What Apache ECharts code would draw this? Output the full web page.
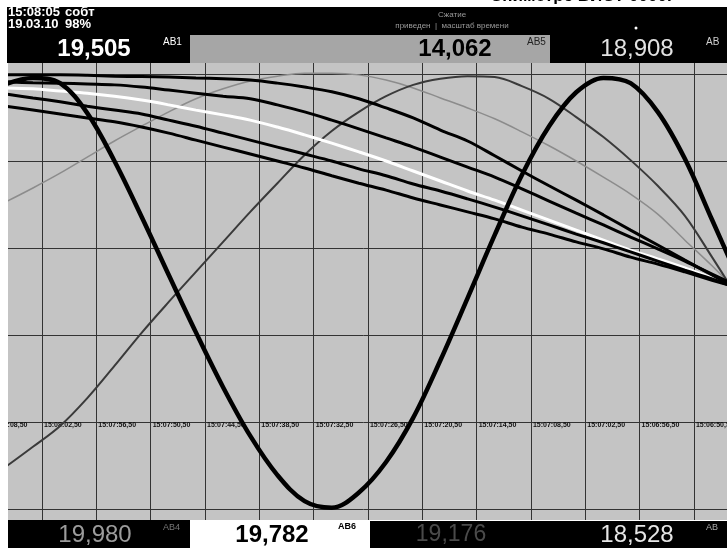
<!DOCTYPE html>
<html><head><meta charset="utf-8">
<script src="https://cdn.jsdelivr.net/npm/echarts@6/dist/echarts.min.js"></script>
<style>html,body{margin:0;padding:0;background:#fff}#c{width:727px;height:550px}</style>
</head><body><div id="c"></div>
<script>
// x: seconds elapsed back from 15:08:08,50 (time runs right-to-left on the recorder)
const seconds = [2,5,8,11,14,17,20,23,26,29,32,35,38,41,44,47,50,53,56,59,62,65,68,71,74,77,80,83];
const tickLabels = ["15:08:08,50","15:08:02,50","15:07:56,50","15:07:50,50","15:07:44,50","15:07:38,50","15:07:32,50","15:07:26,50","15:07:20,50","15:07:14,50","15:07:08,50","15:07:02,50","15:06:56,50","15:06:50,50","15:06:44,50"];
// values in % of scale
const thickSine = [97.7,99.1,97.9,91.0,80.0,67.2,53.8,40.6,28.0,16.8,7.8,1.8,0.3,3.8,10.8,21.0,34.2,48.5,63.0,76.8,88.0,95.8,99.1,97.9,91.3,80.5,66.5,52.5];
const grayRise = [9.7,14.3,19.1,25.5,32.9,40.5,47.6,54.5,61.4,68.3,74.9,81.4,86.9,91.3,94.9,97.5,98.9,99.5,99.3,97.2,94.3,90.1,85.5,80.2,74.3,67.4,57.9,48.0];
const faintGray = [70.6,73.8,77.2,80.9,84.6,88.0,91.3,94.3,96.6,98.4,99.5,100.2,100.2,99.8,98.6,96.8,94.5,92.2,89.7,86.7,83.5,80.0,76.3,72.4,67.8,61.8,55.9,49.4];
const black1 = [99.8,99.8,99.8,99.7,99.5,99.4,99.3,99.1,98.9,98.6,97.9,97.0,95.9,94.3,92.2,89.9,87.1,84.6,81.2,77.7,74.3,71.0,67.6,64.1,60.7,57.2,53.8,50.3];
const black2 = [98.2,98.0,97.9,97.7,97.5,97.0,96.3,95.6,94.9,94.3,92.9,91.3,89.4,87.4,85.3,83.2,80.9,78.6,76.3,73.6,70.8,68.0,65.3,62.5,59.8,57.0,54.0,51.0];
const whiteLine = [96.8,96.6,96.1,95.6,94.9,94.0,92.9,91.7,90.6,89.4,87.8,86.0,84.1,82.1,80.0,77.7,75.4,73.1,71.0,68.7,66.4,64.1,61.8,59.5,57.5,55.4,53.1,51.0];
const black3 = [95.4,94.5,93.6,92.6,91.7,90.8,89.4,88.0,86.4,84.8,83.2,81.6,80.0,78.2,76.6,74.7,73.1,71.3,69.4,67.4,65.3,63.2,61.2,59.1,57.0,54.9,52.9,50.6];
const black4 = [92.6,91.7,90.8,89.9,89.0,87.8,86.4,84.8,83.2,81.6,80.0,78.4,76.6,74.9,73.3,71.5,69.9,68.3,66.7,64.8,63.2,61.4,59.8,57.9,56.3,54.5,52.6,50.8];

const pairs = arr => seconds.map((s, i) => [s, arr[i]]);
const line = (name, arr, color, width, z) => ({
  name, type: 'line', data: pairs(arr), showSymbol: false, smooth: 0.35, z,
  lineStyle: { color, width }, silent: true
});

const F = '"Liberation Sans", Arial, sans-serif';
const FN = '"Liberation Sans Narrow", "Liberation Sans", Arial, sans-serif';
const txt = (text, x, y, fill, font, align, va, z) => ({
  type: 'text', x, y, z: z || 110,
  style: { text, fill, font, align: align || 'left', verticalAlign: va || 'top' }
});

const chart = echarts.init(document.getElementById('c'), null, { renderer: 'canvas' });
chart.setOption({
  animation: false,
  backgroundColor: '#fff',
  grid: { left: -12.33, top: -13, width: 760.6, height: 609, show: true,
          backgroundColor: '#c4c4c4', borderWidth: 0, containLabel: false, outerBoundsMode: 'none' },
  xAxis: {
    type: 'value', min: 0, max: 84, interval: 6,
    axisLine: { show: false }, axisTick: { show: false },
    splitLine: { show: true, lineStyle: { color: '#333', width: 1 } },
    axisLabel: {
      formatter: v => tickLabels[Math.round(v / 6)] || '',
      align: 'left', verticalAlign: 'middle', margin: -171, padding: [0, 0, 0, 2],
      fontSize: 7, fontWeight: 'bold', color: '#111', fontFamily: 'Liberation Sans',
      showMinLabel: true, showMaxLabel: false
    }
  },
  yAxis: {
    type: 'value', min: -20, max: 120, interval: 20,
    axisLine: { show: false }, axisTick: { show: false }, axisLabel: { show: false },
    splitLine: { show: true, lineStyle: { color: '#333', width: 1 } }
  },
  series: [
    line('faint', faintGray, '#8c8c8c', 1.5, 2),
    line('gray', grayRise, '#3a3a3a', 2, 3),
    line('white', whiteLine, '#ffffff', 3, 4),
    line('b4', black4, '#000', 3, 5),
    line('b3', black3, '#000', 3, 5),
    line('b2', black2, '#000', 3, 5),
    line('b1', black1, '#000', 3, 5),
    line('sine', thickSine, '#000', 4.5, 6)
  ],
  graphic: [
    { type: 'rect', shape: { x: 0, y: 0, width: 727, height: 7 }, style: { fill: '#fff' }, z: 100 },
    { type: 'rect', shape: { x: 0, y: 0, width: 8, height: 550 }, style: { fill: '#fff' }, z: 100 },
    txt('Сниметрс БИСТ 0000.', 490, -12, '#000', 'bold 17px ' + F, 'left', 'top', 101),
    { type: 'rect', shape: { x: 7, y: 7, width: 720, height: 56 }, style: { fill: '#000' }, z: 102 },
    { type: 'rect', shape: { x: 190, y: 35, width: 360, height: 28 }, style: { fill: '#a6a6a6' }, z: 103 },
    { type: 'rect', shape: { x: 0, y: 520, width: 727, height: 30 }, style: { fill: '#fff' }, z: 102 },
    { type: 'rect', shape: { x: 8, y: 520, width: 182, height: 28 }, style: { fill: '#000' }, z: 103 },
    { type: 'rect', shape: { x: 370, y: 521, width: 357, height: 27 }, style: { fill: '#000' }, z: 103 },
    txt('15:08:05', 8, 6, '#fff', 'bold 13px ' + FN),
    txt('собт', 65, 6, '#fff', 'bold 13px ' + FN),
    txt('19.03.10', 8, 18, '#fff', 'bold 13px ' + FN),
    txt('98%', 65, 18, '#fff', 'bold 13px ' + FN),
    txt('19,505', 94, 49, '#fff', 'bold 24px ' + F, 'center', 'middle'),
    txt('АВ1', 163, 37, '#fff', '10px ' + F),
    txt('Сжатие', 452, 15, '#9a9a9a', '8px ' + F, 'center', 'middle'),
    txt('приведен  |  масштаб времени', 452, 26, '#9a9a9a', '8px ' + F, 'center', 'middle'),
    { type: 'circle', shape: { cx: 636, cy: 28, r: 1.5 }, style: { fill: '#fff' }, z: 110 },
    txt('14,062', 455, 49, '#000', 'bold 24px ' + F, 'center', 'middle'),
    txt('АВ5', 527, 37, '#222', '10px ' + F),
    txt('18,908', 637, 49, '#e2e2e2', '24px ' + F, 'center', 'middle'),
    txt('АВ', 706, 37, '#cfcfcf', '10px ' + F),
    txt('19,980', 95, 535, '#9c9c9c', '24px ' + F, 'center', 'middle'),
    txt('АВ4', 163, 523, '#777', '9px ' + F),
    txt('19,782', 272, 535, '#000', 'bold 24px ' + F, 'center', 'middle'),
    txt('АВ6', 338, 522, '#000', 'bold 9px ' + F),
    txt('19,176', 451, 535, '#4a4a4a', '23px ' + F, 'center', 'middle'),
    txt('18,528', 637, 535, '#e6e6e6', '24px ' + F, 'center', 'middle'),
    txt('АВ', 706, 523, '#aaa', '9px ' + F)
  ]
});
</script></body></html>
